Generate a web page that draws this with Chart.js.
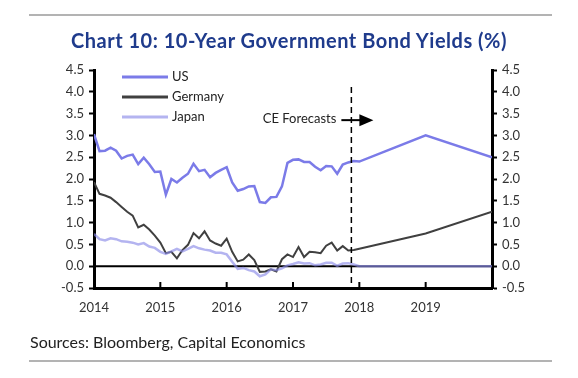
<!DOCTYPE html>
<html>
<head>
<meta charset="utf-8">
<script src="https://cdn.jsdelivr.net/npm/chart.js@4"></script>
<style>
  body { margin: 0; background: #fff; }
  #wrap { position: relative; width: 578px; height: 378px; }
  .rule { position: absolute; left: 29px; width: 523px; height: 2px; background: #b3b3b3; }
  #title { position: absolute; left: 0; width: 578px; top: 28px; text-align: center;
           font: bold 20px "Lato", sans-serif; letter-spacing: 0.5px; color: #1f3b8c; }
  #source { position: absolute; left: 30px; top: 332px; font: 16px "Lato", sans-serif; color: #222; }
</style>
</head>
<body>
<div id="wrap">
  <div class="rule" style="top:14px"></div>
  <div id="title">Chart 10: 10-Year Government Bond Yields (%)</div>
  <canvas id="chart" width="578" height="378"></canvas>
  <div id="source">Sources: Bloomberg, Capital Economics</div>
  <div class="rule" style="top:360px"></div>
</div>
<script>
// month-end yields, Dec 2013 .. Nov 2017 (plotted from the start of 2014)
const startYear = 2014;
const usActual = [3.03, 2.64, 2.65, 2.72, 2.65, 2.47, 2.53, 2.56, 2.34, 2.49, 2.34, 2.16,
                  2.17, 1.64, 2.00, 1.92, 2.03, 2.12, 2.35, 2.18, 2.21, 2.04, 2.14, 2.21,
                  2.27, 1.92, 1.73, 1.77, 1.83, 1.84, 1.47, 1.45, 1.58, 1.59, 1.83, 2.37,
                  2.44, 2.45, 2.39, 2.39, 2.28, 2.20, 2.30, 2.29, 2.12, 2.33, 2.38, 2.41];
const germanyActual = [1.93, 1.66, 1.62, 1.57, 1.47, 1.36, 1.25, 1.16, 0.89, 0.95, 0.84, 0.70,
                       0.54, 0.30, 0.33, 0.18, 0.37, 0.49, 0.76, 0.64, 0.80, 0.59, 0.52, 0.47,
                       0.63, 0.33, 0.11, 0.15, 0.27, 0.14, -0.13, -0.12, -0.07, -0.12, 0.16, 0.27,
                       0.21, 0.44, 0.21, 0.33, 0.32, 0.30, 0.47, 0.54, 0.36, 0.46, 0.36, 0.37];
const japanActual = [0.74, 0.62, 0.59, 0.64, 0.62, 0.57, 0.56, 0.54, 0.50, 0.53, 0.45, 0.42,
                     0.33, 0.28, 0.34, 0.40, 0.34, 0.40, 0.46, 0.41, 0.38, 0.36, 0.31, 0.31,
                     0.27, 0.10, -0.06, -0.04, -0.09, -0.12, -0.23, -0.19, -0.07, -0.09, -0.05, 0.02,
                     0.05, 0.09, 0.06, 0.07, 0.02, 0.04, 0.08, 0.08, 0.01, 0.06, 0.07, 0.04];

// CE forecasts at year ends
const forecastYears = [2018, 2019, 2020];
const usForecast = [2.4, 3.0, 2.5];
const germanyForecast = [0.4, 0.75, 1.25];
const japanForecast = [0.0, 0.0, 0.0];

const seriesNames = ["US", "Germany", "Japan"];
const yearTicks = [2014, 2015, 2016, 2017, 2018, 2019];
const forecastStart = 2017.88;

function toPoints(actual, forecast) {
    const pts = actual.map((v, i) => ({ x: startYear + i / 12, y: v }));
    forecast.forEach((v, i) => pts.push({ x: forecastYears[i], y: v }));
    return pts;
}

const colors = ["#7b7be8", "#404040", "rgba(140,140,232,0.65)"];
const widths = [2.5, 2, 2.5];

// zero line under the data, ticks / legend / forecast marker on top
const extras = {
    id: "extras",
    beforeDatasetsDraw(chart) {
        const { ctx, chartArea: a, scales: { x, y } } = chart;
        const y0 = y.getPixelForValue(0);
        ctx.save();
        ctx.strokeStyle = "#000";
        ctx.lineWidth = 2;
        ctx.beginPath();
        ctx.moveTo(a.left, y0);
        ctx.lineTo(a.right, y0);
        ctx.stroke();
        ctx.restore();
    },
    afterDraw(chart) {
        const { ctx, chartArea: a, scales: { x, y } } = chart;
        ctx.save();
        // inward x ticks
        ctx.strokeStyle = "#000";
        ctx.lineWidth = 2;
        [...yearTicks, 2020].forEach(t => {
            const px = x.getPixelForValue(t);
            ctx.beginPath();
            ctx.moveTo(px, a.bottom);
            ctx.lineTo(px, a.bottom - 6);
            ctx.stroke();
        });

        // forecast divider
        const fx = x.getPixelForValue(forecastStart);
        ctx.lineWidth = 1.5;
        ctx.setLineDash([6, 4]);
        ctx.beginPath();
        ctx.moveTo(fx, a.top + 17);
        ctx.lineTo(fx, a.bottom);
        ctx.stroke();
        ctx.setLineDash([]);

        // CE Forecasts label + arrow
        const ay = y.getPixelForValue(3.35);
        ctx.font = "13px Lato, sans-serif";
        ctx.fillStyle = "#222";
        ctx.textAlign = "right";
        ctx.textBaseline = "middle";
        ctx.fillText("CE Forecasts", fx - 15, ay - 1);
        ctx.lineWidth = 2;
        ctx.beginPath();
        ctx.moveTo(fx - 10, ay);
        ctx.lineTo(fx + 10, ay);
        ctx.stroke();
        ctx.fillStyle = "#000";
        ctx.beginPath();
        ctx.moveTo(fx + 8, ay - 6);
        ctx.lineTo(fx + 22, ay);
        ctx.lineTo(fx + 8, ay + 6);
        ctx.closePath();
        ctx.fill();

        // legend
        ctx.textAlign = "left";
        const legendY = [77, 97, 117];
        seriesNames.forEach((name, i) => {
            ctx.strokeStyle = colors[i];
            ctx.lineWidth = 3;
            ctx.beginPath();
            ctx.moveTo(122, legendY[i]);
            ctx.lineTo(168, legendY[i]);
            ctx.stroke();
            ctx.fillStyle = "#222";
            ctx.fillText(name, 172, legendY[i]);
        });
        ctx.restore();
    }
};

const yTicks = {
    min: -0.5, max: 4.5,
    ticks: { stepSize: 0.5, color: "#333", padding: 5, font: { family: "Lato", size: 13 },
             callback: v => v.toFixed(1) },
    grid: { drawOnChartArea: false, tickLength: 5, tickWidth: 2, color: "#000" },
    border: { color: "#000", width: 3 }
};

new Chart(document.getElementById("chart"), {
    type: "line",
    data: {
        datasets: [
            { label: "Japan", data: toPoints(japanActual, japanForecast), borderColor: colors[2], borderWidth: widths[2] },
            { label: "US", data: toPoints(usActual, usForecast), borderColor: colors[0], borderWidth: widths[0] },
            { label: "Germany", data: toPoints(germanyActual, germanyForecast), borderColor: colors[1], borderWidth: widths[1] }
        ]
    },
    options: {
        responsive: false,
        animation: false,
        devicePixelRatio: 1,
        layout: { padding: { top: 70, left: 0, right: 0, bottom: 0 } },
        elements: { point: { radius: 0 }, line: { tension: 0 } },
        plugins: { legend: { display: false }, tooltip: { enabled: false } },
        scales: {
            x: {
                type: "linear", min: 2014, max: 2020,
                ticks: { stepSize: 1, color: "#333", padding: 4, maxRotation: 0,
                         font: { family: "Lato", size: 13 },
                         callback: v => yearTicks.includes(v) ? String(v) : "" },
                grid: { display: false },
                border: { color: "#000", width: 3 },
                afterFit: s => { s.height = 90; }
            },
            y: Object.assign({ position: "left", afterFit: s => { s.width = 94; } }, yTicks),
            y2: Object.assign({ position: "right", afterFit: s => { s.width = 86; } }, yTicks)
        }
    },
    plugins: [extras]
});
</script>
</body>
</html>
